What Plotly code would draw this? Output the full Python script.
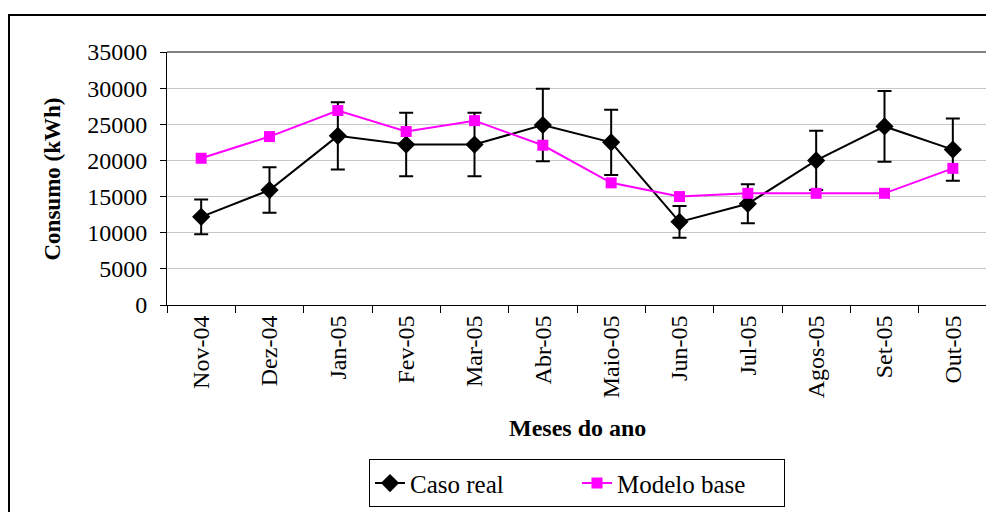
import plotly.graph_objects as go

months = ["Nov-04", "Dez-04", "Jan-05", "Fev-05", "Mar-05", "Abr-05",
          "Maio-05", "Jun-05", "Jul-05", "Agos-05", "Set-05", "Out-05"]
caso_real = [12200, 15900, 23400, 22200, 22200, 24900, 22500, 11500, 14000, 20000, 24700, 21500]
caso_real_err = [2400, 3150, 4650, 4400, 4400, 5000, 4500, 2200, 2700, 4100, 4900, 4300]
modelo_base = [20300, 23300, 26900, 24000, 25500, 22100, 16900, 15000, 15450, 15450, 15450, 18900]

FONT = "Liberation Serif"

fig = go.Figure()
fig.add_trace(go.Scatter(
    x=months, y=caso_real, name="Caso real", mode="lines+markers",
    line=dict(color="black", width=2),
    marker=dict(symbol="diamond", size=14, color="black"),
    error_y=dict(type="data", array=caso_real_err, visible=True,
                 color="black", thickness=2, width=7),
))
fig.add_trace(go.Scatter(
    x=months, y=modelo_base, name="Modelo base", mode="lines+markers",
    line=dict(color="#FF00FF", width=2),
    marker=dict(symbol="square", size=11, color="#FF00FF"),
))

fig.update_layout(
    width=986, height=504,
    margin=dict(l=159, r=7, t=44, b=207, autoexpand=False),
    paper_bgcolor="white", plot_bgcolor="white",
    font=dict(family=FONT, size=22, color="black"),
    showlegend=True,
    legend=dict(orientation="h", x=0.5, xanchor="center", y=-0.61, yanchor="top",
                bordercolor="black", borderwidth=1, font=dict(size=25, family=FONT),
                entrywidth=162, entrywidthmode="pixels", tracegroupgap=0),
    xaxis=dict(
        type="category", tickangle=-90, tickson="boundaries",
        ticks="outside", ticklen=7, tickcolor="black", tickwidth=1,
        showline=True, linecolor="black", linewidth=1, automargin=False,
        showgrid=False, tickfont=dict(size=24, family=FONT), range=[-0.5, 11.5],
    ),
    yaxis=dict(
        range=[0, 35000], dtick=5000, tickformat="d", automargin=False,
        ticks="outside", ticklen=6, tickcolor="black",
        showline=True, linecolor="black", linewidth=1,
        showgrid=True, gridcolor="#C8C8C8", gridwidth=1,
        tickfont=dict(size=24, family=FONT), ticklabelstandoff=8, zeroline=False,
    ),
    shapes=[
        dict(type="line", xref="paper", yref="paper", x0=0, x1=1, y0=1, y1=1,
             line=dict(color="#808080", width=2)),
        dict(type="line", xref="paper", yref="paper", x0=1, x1=1, y0=0, y1=1,
             line=dict(color="#808080", width=2)),
        dict(type="rect", xref="paper", yref="paper",
             x0=(9 - 167) / 820, x1=1.2, y0=-1.5, y1=1 + (52 - 15) / 253,
             line=dict(color="black", width=2), layer="below"),
    ],
    annotations=[
        dict(text="<b>Consumo (kWh)</b>", xref="paper", yref="paper",
             x=(52 - 167) / 820, y=0.5, textangle=-90, showarrow=False,
             font=dict(size=23, family=FONT), xanchor="center", yanchor="middle"),
        dict(text="<b>Meses do ano</b>", xref="paper", yref="paper",
             x=0.5, y=(305 - 428) / 253, showarrow=False,
             font=dict(size=24, family=FONT), xanchor="center", yanchor="middle"),
    ],
)

fig.write_html("out.html")
